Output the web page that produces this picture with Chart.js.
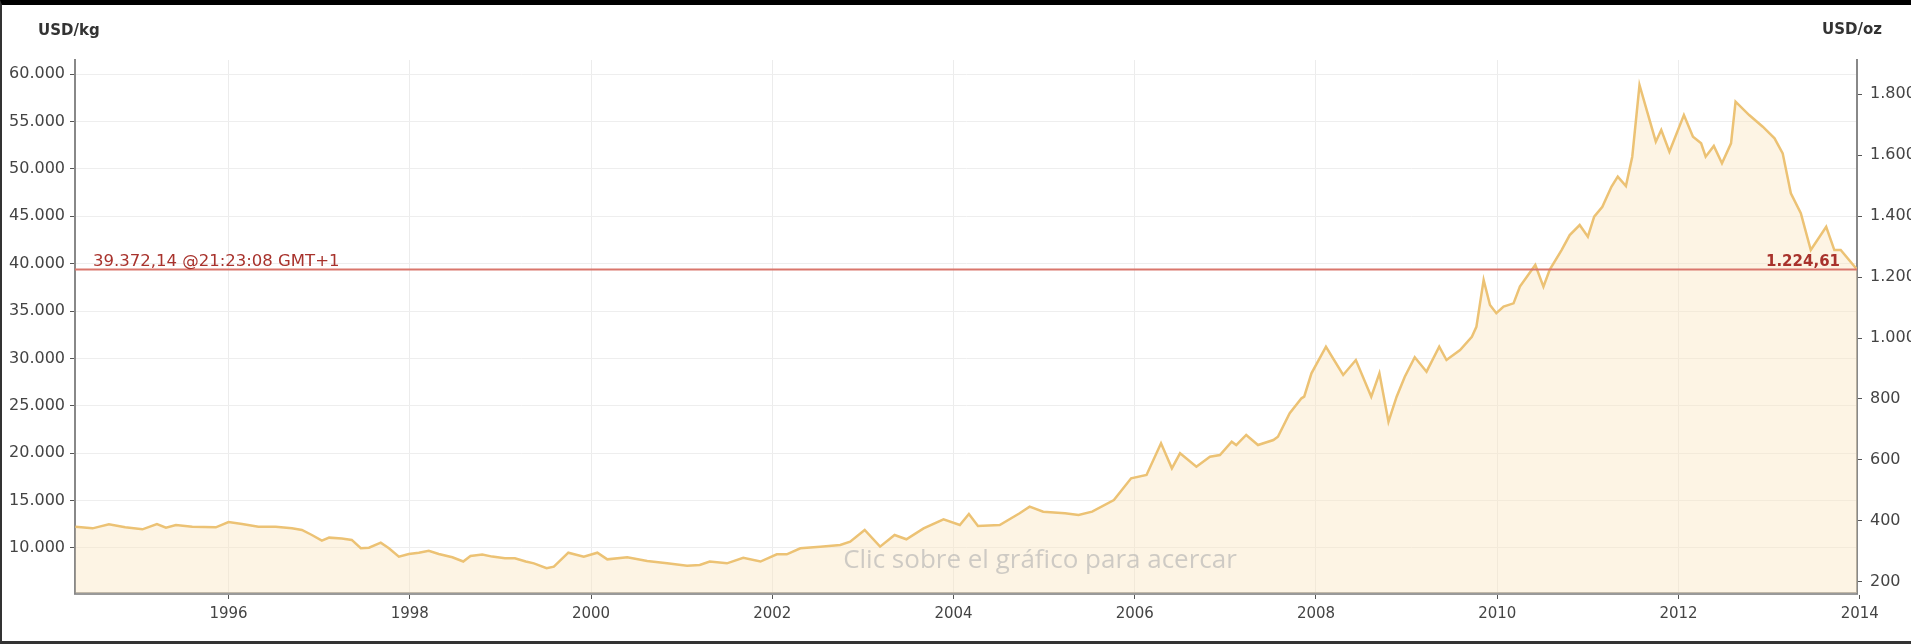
<!DOCTYPE html>
<html>
<head>
<meta charset="utf-8">
<script src="https://cdn.jsdelivr.net/npm/chart.js@4.4.0/dist/chart.umd.min.js"></script>
<style>
    html, body { margin: 0; padding: 0; background: #fff; }
    #marco {
        width: 1911px; height: 644px; box-sizing: border-box;
        border-top: 5px solid #000; border-left: 2px solid #333; border-bottom: 3px solid #333;
        background: #fff;
    }
    canvas { display: block; }
</style>
</head>
<body>
<div id="marco"><canvas id="oroChart" width="1909" height="636"></canvas></div>
<script>
// Precio del oro (USD/kg), fechas en años decimales
const years = [
    1994.31, 1994.50, 1994.68, 1994.86, 1995.05, 1995.21, 1995.31, 1995.42, 1995.60, 1995.86,
    1996.00, 1996.15, 1996.33, 1996.52, 1996.70, 1996.81, 1996.92, 1997.03, 1997.11, 1997.25,
    1997.36, 1997.46, 1997.55, 1997.68, 1997.77, 1997.88, 1997.99, 1998.10, 1998.21, 1998.32,
    1998.47, 1998.59, 1998.67, 1998.80, 1998.91, 1999.05, 1999.16, 1999.28, 1999.37, 1999.51,
    1999.59, 1999.75, 1999.92, 2000.07, 2000.18, 2000.40, 2000.62, 2000.84, 2001.06, 2001.20,
    2001.31, 2001.50, 2001.68, 2001.87, 2002.05, 2002.16, 2002.31, 2002.53, 2002.75, 2002.86,
    2003.02, 2003.19, 2003.35, 2003.48, 2003.67, 2003.89, 2004.07, 2004.17, 2004.27, 2004.51,
    2004.73, 2004.84, 2004.99, 2005.23, 2005.38, 2005.53, 2005.77, 2005.96, 2006.13, 2006.29,
    2006.41, 2006.50, 2006.68, 2006.83, 2006.94, 2007.07, 2007.12, 2007.23, 2007.36, 2007.53,
    2007.58, 2007.71, 2007.84, 2007.87, 2007.95, 2008.11, 2008.30, 2008.44, 2008.61, 2008.70,
    2008.80, 2008.89, 2008.98, 2009.09, 2009.22, 2009.36, 2009.44, 2009.59, 2009.72, 2009.77,
    2009.85, 2009.92, 2009.99, 2010.07, 2010.18, 2010.25, 2010.42, 2010.51, 2010.58, 2010.71,
    2010.80, 2010.91, 2011.00, 2011.07, 2011.16, 2011.26, 2011.33, 2011.42, 2011.49, 2011.57,
    2011.66, 2011.75, 2011.81, 2011.90, 2012.06, 2012.16, 2012.25, 2012.30, 2012.39, 2012.48,
    2012.58, 2012.63, 2012.78, 2012.93, 2013.06, 2013.15, 2013.24, 2013.35, 2013.46, 2013.63,
    2013.72, 2013.79, 2013.97
];
const usdPerKg = [
    12245, 12070, 12500, 12180, 11970, 12530, 12140, 12420, 12245, 12180,
    12740, 12530, 12245, 12245, 12070, 11900, 11370, 10770, 11090, 10990,
    10850, 9970, 10030, 10560, 9970, 9090, 9370, 9500, 9710, 9370,
    9020, 8570, 9160, 9300, 9090, 8910, 8910, 8570, 8380, 7860,
    8030, 9500, 9090, 9500, 8800, 9020, 8630, 8380, 8130, 8200,
    8570, 8380, 8970, 8570, 9330, 9330, 9970, 10140, 10320, 10670,
    11900, 10140, 11370, 10920, 12070, 13020, 12420, 13580, 12320, 12420,
    13660, 14360, 13830, 13660, 13480, 13830, 15060, 17350, 17700, 21040,
    18400, 19990, 18580, 19630, 19810, 21210, 20860, 21920, 20860, 21390,
    21740, 24210, 25790, 25960, 28430, 31230, 28250, 29830, 25960, 28430,
    23320, 25960, 28070, 30120, 28600, 31230, 29830, 30880, 32280, 33330,
    38270, 35640, 34760, 35460, 35810, 37570, 39860, 37570, 39370, 41430,
    43010, 44070, 42840, 44950, 46000, 48110, 49170, 48180, 51280, 58840,
    55850, 52860, 54090, 51800, 55670, 53390, 52690, 51280, 52410, 50580,
    52690, 57080, 55670, 54440, 53220, 51630, 47420, 45310, 41430, 43890,
    41430, 41430, 39372.14
];
const tickYears = [1996, 1998, 2000, 2002, 2004, 2006, 2008, 2010, 2012, 2014];
const ticksKg = [10000, 15000, 20000, 25000, 30000, 35000, 40000, 45000, 50000, 55000, 60000];
const ticksOz = [200, 400, 600, 800, 1000, 1200, 1400, 1600, 1800];

const precioActualKg = 39372.14;
const precioActualOz = 1224.61;
const horaActual = '@21:23:08 GMT+1';
const OZ_POR_KG = 32.1507;

const xMin = 1994.306, xMax = 2013.97;
const yMinKg = 5250, yMaxKg = 61480;

// formato español: 60.000 / 39.372,14
function fmt(n, dec) {
    const partes = n.toFixed(dec || 0).split('.');
    partes[0] = partes[0].replace(/\B(?=(\d{3})+(?!\d))/g, '.');
    return partes.join(',');
}

const textosPlugin = {
    id: 'textos',
    afterDatasetsDraw(chart) {
        const c = chart.ctx;
        const area = chart.chartArea;
        const yLinea = chart.scales.y.getPixelForValue(precioActualKg);
        c.save();
        // marca de agua
        c.font = '26px "Open Sans", sans-serif';
        c.fillStyle = 'rgba(175,175,175,0.6)';
        c.textAlign = 'center';
        c.textBaseline = 'middle';
        c.fillText('Clic sobre el gráfico para acercar', 1038, 556);
        // etiquetas de la linea de precio actual
        c.fillStyle = '#a8322c';
        c.textBaseline = 'alphabetic';
        c.textAlign = 'left';
        c.font = '16.5px "DejaVu Sans", sans-serif';
        c.fillText(fmt(precioActualKg, 2) + ' ' + horaActual, area.left + 18, yLinea - 4);
        c.textAlign = 'right';
        c.font = 'bold 15px "DejaVu Sans", sans-serif';
        c.fillText(fmt(precioActualOz, 2), area.right - 17, yLinea - 4);
        // titulos de los ejes
        c.fillStyle = '#333';
        c.font = 'bold 15px "DejaVu Sans", sans-serif';
        c.textAlign = 'left';
        c.textBaseline = 'middle';
        c.fillText('USD/kg', 36, 26);
        c.fillText('USD/oz', 1820, 25);
        c.restore();
    }
};

const fuenteY = { family: '"DejaVu Sans", sans-serif', size: 16 };
const fuenteX = { family: '"DejaVu Sans", sans-serif', size: 15 };

new Chart(document.getElementById('oroChart').getContext('2d'), {
    type: 'line',
    data: {
        datasets: [{
            data: years.map((t, i) => ({ x: t, y: usdPerKg[i] })),
            borderColor: '#ecc274',
            borderWidth: 2.5,
            backgroundColor: 'rgba(250,228,190,0.42)',
            fill: 'start',
            pointRadius: 0,
            tension: 0,
            yAxisID: 'y',
            order: 2
        }, {
            data: [{ x: xMin, y: precioActualKg }, { x: xMax, y: precioActualKg }],
            borderColor: '#d9766c',
            borderWidth: 2,
            pointRadius: 0,
            fill: false,
            yAxisID: 'y',
            order: 1
        }]
    },
    options: {
        responsive: false,
        animation: false,
        events: [],
        layout: { padding: { top: 55, bottom: 8, left: 0, right: 0 } },
        plugins: { legend: { display: false }, tooltip: { enabled: false } },
        scales: {
            x: {
                type: 'linear',
                position: 'bottom',
                min: xMin,
                max: xMax,
                afterBuildTicks: s => { s.ticks = tickYears.map(v => ({ value: v })); },
                afterFit: s => { s.height = 40; },
                ticks: { color: '#444', font: fuenteX, padding: 6, maxRotation: 0, autoSkip: false,
                         callback: v => String(v) },
                grid: { color: ctx => (ctx.tick && ctx.tick.value > xMax) ? 'rgba(0,0,0,0)' : '#ececec',
                        tickColor: '#555', tickLength: 6, lineWidth: 1 },
                border: { color: '#999', width: 3 }
            },
            y: {
                position: 'left',
                min: yMinKg,
                max: yMaxKg,
                afterBuildTicks: s => { s.ticks = ticksKg.map(v => ({ value: v })); },
                afterFit: s => { s.width = 73; },
                ticks: { color: '#444', font: fuenteY, padding: 5, callback: v => fmt(v) },
                grid: { color: '#eeeeee', tickColor: '#555', tickLength: 5 },
                border: { color: '#888', width: 2 }
            },
            y2: {
                position: 'right',
                min: yMinKg / OZ_POR_KG,
                max: yMaxKg / OZ_POR_KG,
                afterBuildTicks: s => { s.ticks = ticksOz.map(v => ({ value: v })); },
                afterFit: s => { s.width = 54; },
                ticks: { color: '#444', font: fuenteY, padding: 8, callback: v => fmt(v) },
                grid: { drawOnChartArea: false, tickColor: '#555', tickLength: 5 },
                border: { color: '#888', width: 2 }
            }
        }
    },
    plugins: [textosPlugin]
});
</script>
</body>
</html>
